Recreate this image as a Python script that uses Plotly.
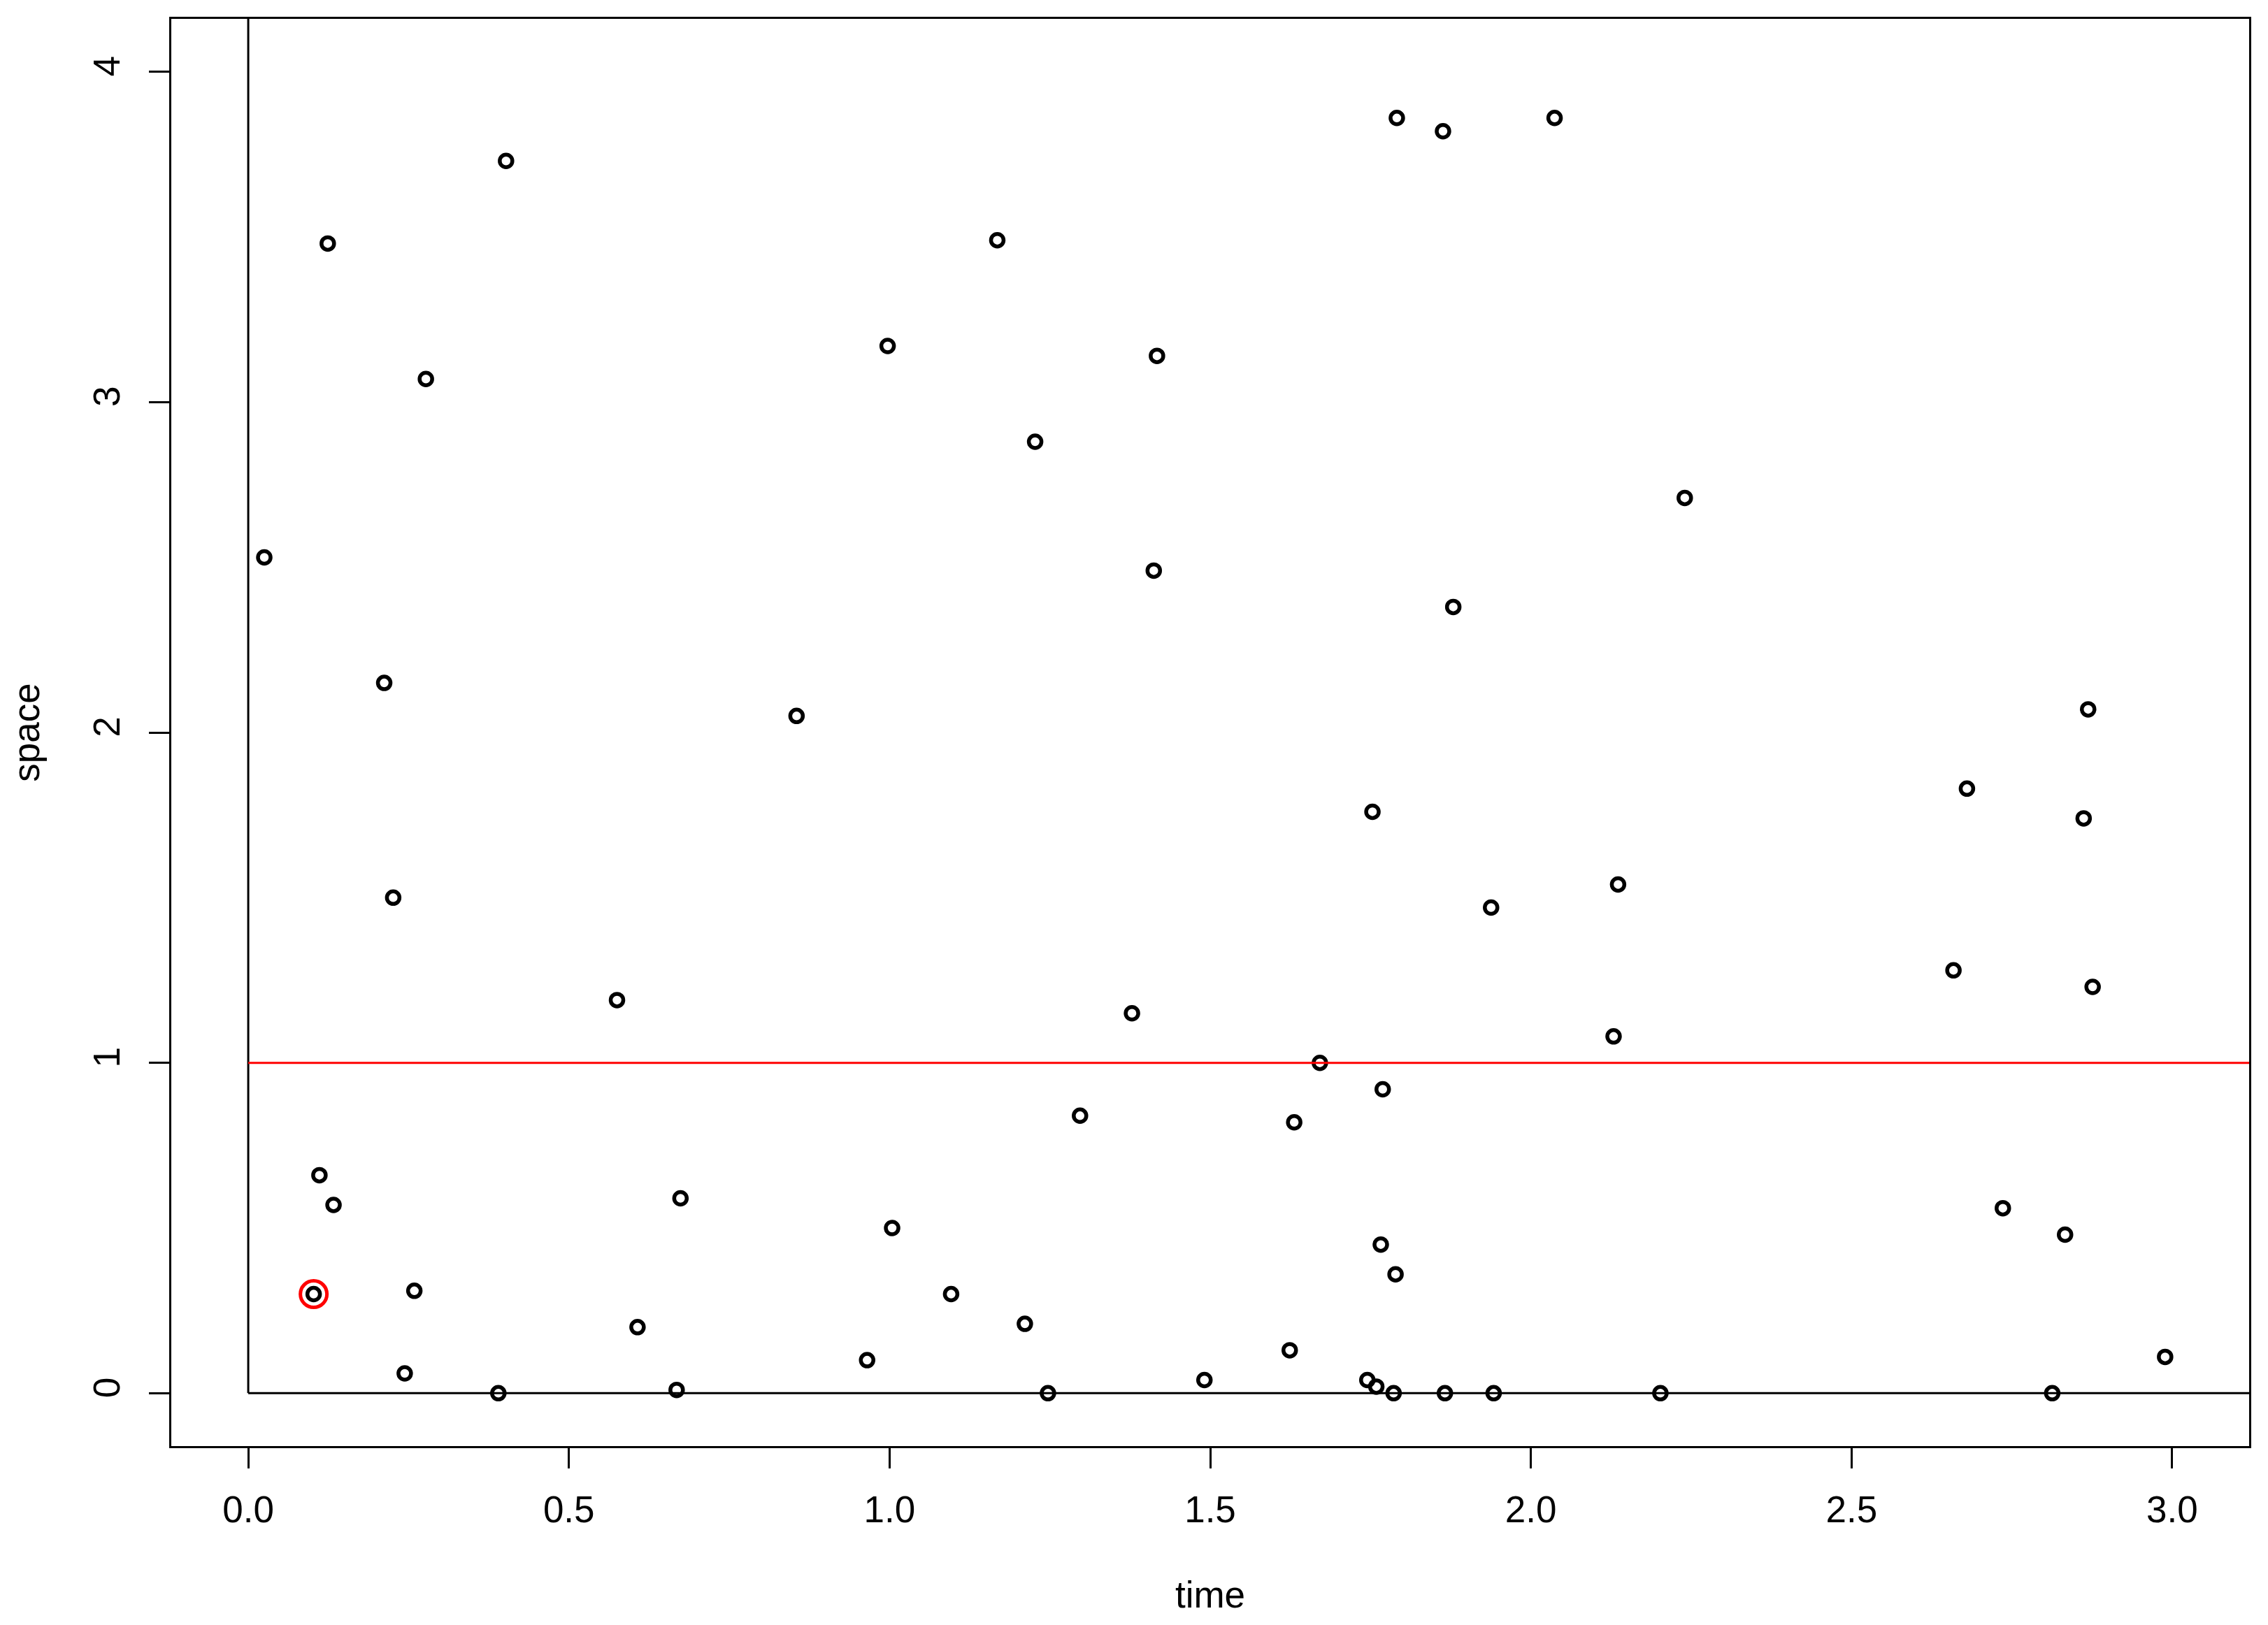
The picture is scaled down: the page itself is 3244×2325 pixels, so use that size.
import plotly.graph_objects as go

# points
time = [0.025, 0.124, 0.277, 0.402, 0.212, 0.226, 0.111, 0.133, 0.102, 0.259,
        0.244, 0.390, 0.575, 0.607, 0.668, 0.674, 0.855, 0.965, 0.997, 1.004,
        1.096, 1.168, 1.211, 1.227, 1.247, 1.297, 1.378, 1.412, 1.417, 1.491,
        1.624, 1.631, 1.671, 1.745, 1.753, 1.759, 1.766, 1.769, 1.786, 1.789,
        1.791, 1.863, 1.866, 1.879, 1.938, 1.942, 2.037, 2.129, 2.136, 2.202,
        2.240, 2.659, 2.680, 2.736, 2.813, 2.833, 2.862, 2.869, 2.876, 2.989]
space = [2.53, 3.48, 3.07, 3.73, 2.15, 1.50, 0.66, 0.57, 0.30, 0.31,
         0.06, 0.00, 1.19, 0.20, 0.01, 0.59, 2.05, 0.10, 3.17, 0.50,
         0.30, 3.49, 0.21, 2.88, 0.00, 0.84, 1.15, 2.49, 3.14, 0.04,
         0.13, 0.82, 1.00, 0.04, 1.76, 0.02, 0.45, 0.92, 0.00, 0.36,
         3.86, 3.82, 0.00, 2.38, 1.47, 0.00, 3.86, 1.08, 1.54, 0.00,
         2.71, 1.28, 1.83, 0.56, 0.00, 0.48, 1.74, 2.07, 1.23, 0.11]

threshold = 1.0      # red horizontal line
highlight = 8        # index of the circled point
x_ticks = [0, 0.5, 1, 1.5, 2, 2.5, 3]
x_labels = ["0.0", "0.5", "1.0", "1.5", "2.0", "2.5", "3.0"]
y_ticks = [0, 1, 2, 3, 4]
y_labels = ["0", "1", "2", "3", "4"]

FONT = "Liberation Sans, Arial, sans-serif"

fig = go.Figure()

fig.add_trace(go.Scatter(
    x=time, y=space, mode="markers",
    marker=dict(symbol="circle-open", size=18, color="black",
                line=dict(width=5.5, color="black")),
    showlegend=False,
))

fig.add_trace(go.Scatter(
    x=[time[highlight]], y=[space[highlight]], mode="markers",
    marker=dict(symbol="circle-open", size=38, color="red",
                line=dict(width=5, color="red")),
    showlegend=False,
))

# L-shaped lines at the origin and the threshold line
fig.add_shape(type="line", xref="x", yref="y", x0=0, x1=0, y0=0, y1=4.16,
              line=dict(color="black", width=3))
fig.add_shape(type="line", xref="x", yref="y", x0=0, x1=3.12, y0=0, y1=0,
              line=dict(color="black", width=3))
fig.add_shape(type="line", xref="x", yref="y", x0=0, x1=3.12,
              y0=threshold, y1=threshold, line=dict(color="red", width=3))

axis_common = dict(
    showgrid=False, zeroline=False, showline=True, linecolor="black",
    linewidth=3, mirror=True, ticks="outside", ticklen=29, tickwidth=3,
    tickcolor="black", tickfont=dict(family=FONT, size=53, color="black"),
    automargin=False,
)

fig.update_layout(
    width=3228, height=2309,
    paper_bgcolor="white", plot_bgcolor="white",
    margin=dict(l=237, r=19, t=19, b=248, autoexpand=False),
    font=dict(family=FONT, size=53, color="black"),
    xaxis=dict(range=[-0.12, 3.12], tickvals=x_ticks, ticktext=x_labels,
               ticklabelstandoff=13,
               title=dict(text="time", font=dict(size=53), standoff=76),
               **axis_common),
    yaxis=dict(range=[-0.16, 4.16], tickvals=y_ticks, ticktext=y_labels,
               tickangle=-90, ticklabelstandoff=21,
               title=dict(text="space", font=dict(size=53), standoff=74),
               **axis_common),
)

fig.write_html("out.html")
